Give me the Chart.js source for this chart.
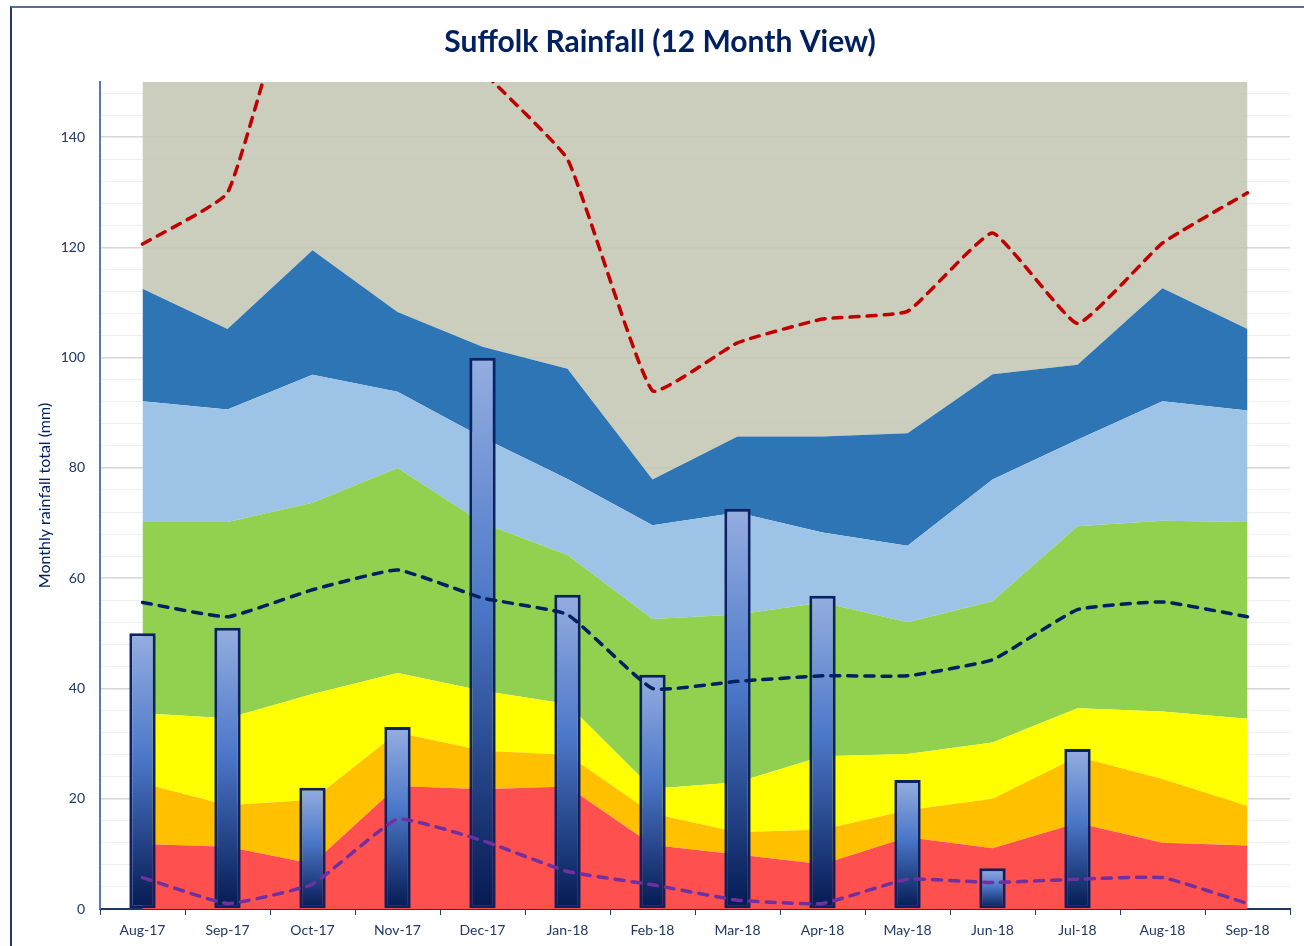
<!DOCTYPE html>
<html>
<head>
<meta charset="utf-8">
<title>Suffolk Rainfall (12 Month View)</title>
<script src="https://cdn.jsdelivr.net/npm/chart.js@4"></script>
<style>
    html, body { margin: 0; padding: 0; background: #ffffff; overflow: hidden; }
    #wrap { position: relative; width: 1304px; height: 946px; }
    #frame {
        position: absolute; left: 10px; top: 6px; width: 1310px; height: 960px;
        border-top: 2px solid #5a6d96; border-left: 2px solid #233a6c;
        pointer-events: none;
    }
</style>
</head>
<body>
<div id="wrap">
    <canvas id="rainChart"></canvas>
    <div id="frame"></div>
</div>
<script>
// Month labels along the x axis
const months = ['Aug-17', 'Sep-17', 'Oct-17', 'Nov-17', 'Dec-17', 'Jan-18', 'Feb-18',
                'Mar-18', 'Apr-18', 'May-18', 'Jun-18', 'Jul-18', 'Aug-18', 'Sep-18'];

// Monthly rainfall totals (mm), last two months not yet recorded
const rainfall = [50, 51, 22, 33, 100, 57, 42.5, 72.6, 56.8, 23.4, 7.4, 29, null, null];

// Upper edge of each banded range (mm)
const bandRed       = [11.8, 11.3, 8.2, 22.3, 21.7, 22.2, 11.6, 9.9, 8.1, 13.0, 11.0, 15.6, 12.0, 11.5];
const bandOrange    = [22.8, 18.8, 19.8, 32.0, 28.7, 28.0, 17.3, 13.9, 14.4, 17.9, 20.0, 27.6, 23.6, 18.7];
const bandYellow    = [35.5, 34.6, 39.0, 42.8, 39.6, 37.2, 21.8, 23.0, 27.7, 28.1, 30.2, 36.4, 35.8, 34.5];
const bandGreen     = [70.2, 70.2, 73.7, 80.0, 70.0, 64.2, 52.6, 53.4, 55.6, 52.0, 55.8, 69.4, 70.4, 70.2];
const bandLightBlue = [92.1, 90.6, 96.9, 93.8, 85.5, 78.0, 69.6, 71.9, 68.3, 65.9, 77.9, 85.1, 92.1, 90.4];
const bandDarkBlue  = [112.5, 105.2, 119.5, 108.3, 102.0, 98.0, 77.9, 85.7, 85.7, 86.3, 97.0, 98.7, 112.6, 105.2];

// Long-term monthly maximum, average and minimum (mm)
const maxRain = [120.6, 129.9, 178, 170, 152, 136, 94.0, 102.7, 107.0, 108.4, 122.6, 106.2, 120.8, 129.9];
const avgRain = [55.6, 53.0, 57.9, 61.5, 56.4, 53.4, 40.0, 41.3, 42.3, 42.3, 45.2, 54.3, 55.7, 53.0];
const minRain = [5.7, 1.0, 4.5, 16.3, 12.4, 6.8, 4.4, 1.6, 1.0, 5.4, 4.8, 5.4, 5.7, 1.0];

// y ticks every 4 mm, labels only on the 20 mm steps
const majorStep = 20;
const minorStep = 4;

const navy = '#1f3864';
const font = 'Lato, "Open Sans", sans-serif';

function band(label, data, color, fill) {
    return {
        type: 'line',
        label: label,
        data: data,
        backgroundColor: color,
        borderWidth: 0,
        pointRadius: 0,
        tension: 0,
        fill: fill,
        order: 2,
    };
}

function dashed(label, data, color) {
    return {
        type: 'line',
        label: label,
        data: data,
        borderColor: color,
        borderWidth: 3.5,
        borderDash: [9, 8],
        borderCapStyle: 'round',
        pointRadius: 0,
        tension: 0.12,
        fill: false,
        order: 0,
    };
}

// each bar gets its own light-to-dark gradient from its top down to zero
function barGradient(context) {
    const chart = context.chart;
    const value = context.raw;
    if (!chart.chartArea || value == null) return '#4a76c9';
    const y = chart.scales.y;
    const g = chart.ctx.createLinearGradient(0, y.getPixelForValue(value), 0, y.getPixelForValue(0));
    g.addColorStop(0, '#95aee0');
    g.addColorStop(0.45, '#4c77c9');
    g.addColorStop(1, '#041a52');
    return g;
}

new Chart(document.getElementById('rainChart'), {
    type: 'bar',
    data: {
        labels: months,
        datasets: [
            dashed('Maximum', maxRain, '#c00000'),
            dashed('Average', avgRain, '#002060'),
            dashed('Minimum', minRain, '#7030a0'),
            {
                type: 'bar',
                label: 'Monthly rainfall',
                data: rainfall,
                backgroundColor: barGradient,
                borderColor: '#0b2160',
                borderWidth: 3,
                borderSkipped: false,
                barPercentage: 0.31,
                categoryPercentage: 1,
                order: 1,
            },
            band('Red', bandRed, '#ff5050', 'origin'),
            band('Orange', bandOrange, '#ffc000', '-1'),
            band('Yellow', bandYellow, '#ffff00', '-1'),
            band('Green', bandGreen, '#92d050', '-1'),
            band('Light blue', bandLightBlue, '#9dc3e6', '-1'),
            band('Dark blue', bandDarkBlue, '#2e75b6', '-1'),
            band('Grey', bandDarkBlue, 'rgba(195, 198, 178, 0.85)', 'end'),
        ],
    },
    options: {
        responsive: true,
        maintainAspectRatio: false,
        animation: false,
        layout: {
            padding: { left: 30, right: 14, top: 0, bottom: 0 },
        },
        elements: {
            line: { capBezierPoints: false },
        },
        plugins: {
            legend: { display: false },
            tooltip: { enabled: false },
            title: {
                display: true,
                text: 'Suffolk Rainfall (12 Month View)',
                color: '#002060',
                font: { family: font, size: 30, weight: 'bold' },
                padding: { top: 24, bottom: 22 },
            },
        },
        scales: {
            x: {
                offset: true,
                grid: {
                    drawOnChartArea: false,
                    drawTicks: true,
                    tickLength: 6,
                    offset: true,
                    color: navy,
                },
                border: { color: '#203864', width: 2 },
                ticks: {
                    color: navy,
                    font: { family: font, size: 14 },
                    padding: 7,
                    maxRotation: 0,
                    autoSkip: false,
                },
                afterFit(scale) { scale.height = 37; },
            },
            y: {
                min: 0,
                max: 150,
                ticks: {
                    stepSize: minorStep,
                    includeBounds: false,
                    autoSkip: false,
                    padding: 15,
                    color: navy,
                    font: { family: font, size: 14 },
                    callback: value => (value % majorStep === 0 ? value : ''),
                },
                grid: {
                    drawTicks: false,
                    color: ctx => (ctx.tick && ctx.tick.value % majorStep === 0 ? '#d6d6d6' : '#eeeeee'),
                    lineWidth: ctx => (ctx.tick && ctx.tick.value % majorStep === 0 ? 1.5 : 1),
                },
                border: { color: '#5b78ad', width: 2 },
                title: {
                    display: true,
                    text: 'Monthly rainfall total (mm)',
                    color: '#002060',
                    font: { family: font, size: 16 },
                    padding: { top: 5, bottom: 0 },
                },
                afterFit(scale) { scale.width = 70; },
            },
        },
    },
});
</script>
</body>
</html>
